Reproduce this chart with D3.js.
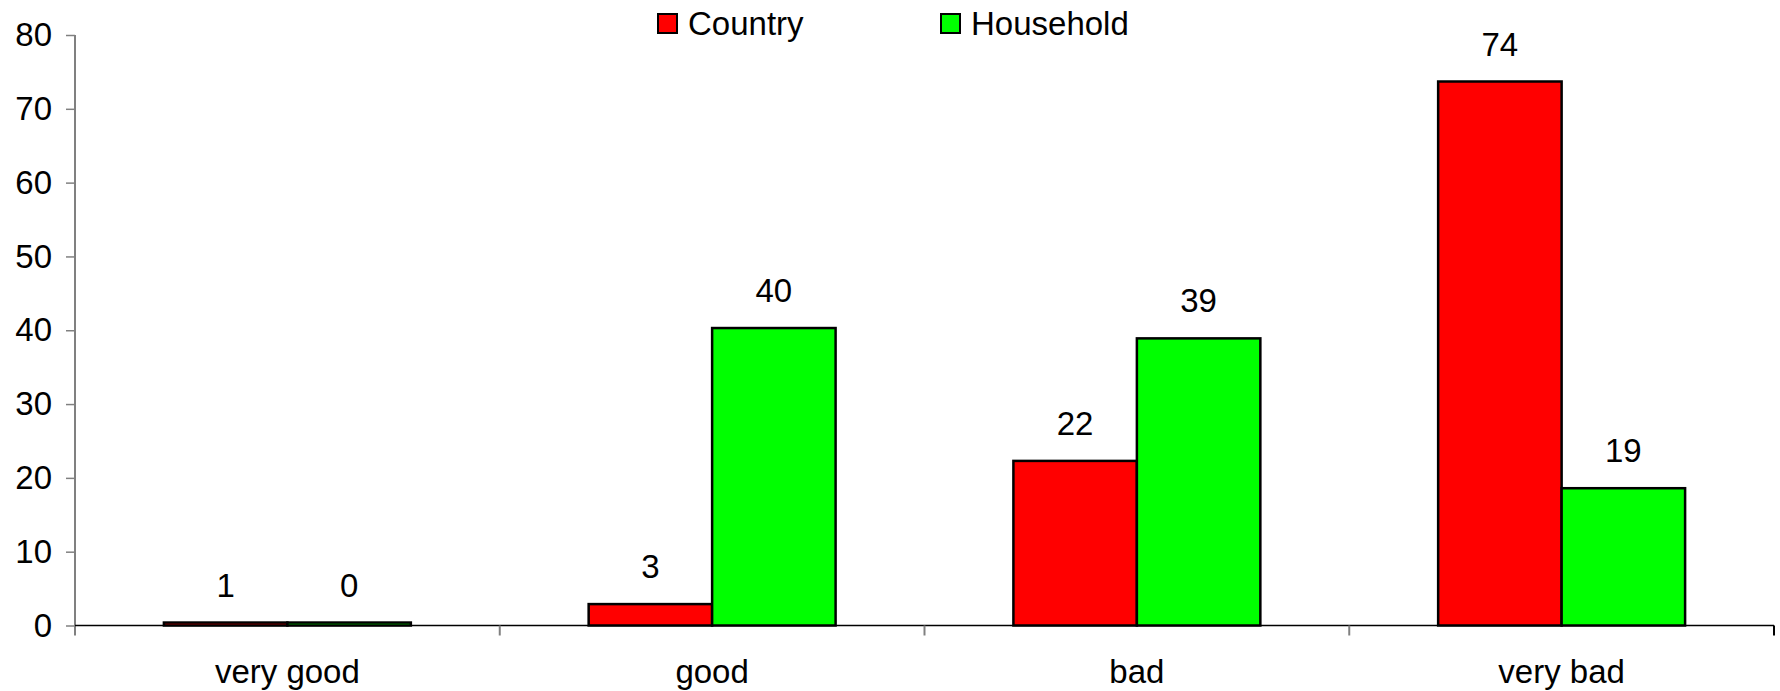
<!DOCTYPE html>
<html>
<head>
<meta charset="utf-8">
<script src="https://cdn.jsdelivr.net/npm/d3@7"></script>
<style>
html,body{margin:0;padding:0;background:#fff;}
svg{display:block;font-family:"Liberation Sans",Arial,sans-serif;}
</style>
</head>
<body>
<svg id="chart" width="1780" height="691"></svg>
<script>
const categories = ["very good", "good", "bad", "very bad"];
const seriesNames = ["Country", "Household"];
const countryValues = [0.4, 2.9, 22.3, 73.7];
const householdValues = [0.4, 40.3, 38.9, 18.6];
const countryLabels = ["1", "3", "22", "74"];
const householdLabels = ["0", "40", "39", "19"];
const yTicks = [0, 10, 20, 30, 40, 50, 60, 70, 80];
const colors = ["#ff0000", "#00ff00"];

(function () {
const svg = d3.select("#chart");
const mLeft = 75, mRight = 1774, mTop = 35, mBottom = 625.5;
const fs = 33;

const x = d3.scaleBand().domain(categories).range([mLeft, mRight]).padding(0);
const xi = d3.scaleBand().domain(seriesNames).range([0, x.bandwidth()]).paddingInner(0).paddingOuter(0.72);
const y = d3.scaleLinear().domain([0, 80]).range([mBottom, mTop]);

const data = categories.map((c, i) => ({cat: c, vals: [
  {s: seriesNames[0], v: countryValues[i], l: countryLabels[i]},
  {s: seriesNames[1], v: householdValues[i], l: householdLabels[i]}
]}));

// Y axis
const yAxis = svg.append("g").attr("transform", `translate(${mLeft},0)`)
  .call(d3.axisLeft(y).tickValues(yTicks).tickSize(9).tickPadding(14).tickFormat(d3.format("d")));
yAxis.select(".domain").attr("stroke", "#808080").attr("stroke-width", 2).attr("d", `M0,${mTop}V${mBottom+10}`);
yAxis.selectAll(".tick line").attr("stroke", "#808080").attr("stroke-width", 1.5);
yAxis.selectAll(".tick text").attr("font-size", fs).attr("fill", "#000").attr("font-family", "Liberation Sans, Arial, sans-serif");

// X axis
const xAxis = svg.append("g").attr("transform", `translate(0,${mBottom})`);
xAxis.append("line").attr("x1", mLeft).attr("x2", mRight).attr("stroke", "#000").attr("stroke-width", 1.5);
xAxis.selectAll("line.sep").data(categories.slice(1).concat(["__end"]))
  .join("line").attr("class", "sep")
  .attr("x1", d => d === "__end" ? mRight : x(d)).attr("x2", d => d === "__end" ? mRight : x(d))
  .attr("y1", 0).attr("y2", 10).attr("stroke", d => d === "__end" ? "#000" : "#808080").attr("stroke-width", 2);
xAxis.selectAll("text.cat").data(categories).join("text").attr("class", "cat")
  .attr("x", d => x(d) + x.bandwidth() / 2).attr("y", 57)
  .attr("text-anchor", "middle").attr("font-size", fs).attr("fill", "#000").text(d => d);

// Bars
const groups = svg.append("g").selectAll("g").data(data).join("g")
  .attr("transform", d => `translate(${x(d.cat)},0)`);
groups.selectAll("rect").data(d => d.vals).join("rect")
  .attr("x", d => xi(d.s)).attr("width", xi.bandwidth())
  .attr("y", d => y(d.v)).attr("height", d => mBottom - y(d.v))
  .attr("fill", (d, i) => colors[i]).attr("stroke", "#000").attr("stroke-width", 2.5);
groups.selectAll("text").data(d => d.vals).join("text")
  .attr("x", d => xi(d.s) + xi.bandwidth() / 2).attr("y", d => y(d.v) - 26)
  .attr("text-anchor", "middle").attr("font-size", fs).attr("fill", "#000")
  .text(d => d.l);

// Legend
const legendX = [658, 941];
const legend = svg.append("g").selectAll("g").data(seriesNames).join("g")
  .attr("transform", (d, i) => `translate(${legendX[i]},14)`);
legend.append("rect").attr("width", 19).attr("height", 19)
  .attr("fill", (d, i) => colors[i]).attr("stroke", "#000").attr("stroke-width", 2);
legend.append("text").attr("x", 30).attr("y", 21).attr("font-size", fs).attr("fill", "#000").text(d => d);
})();
</script>
</body>
</html>
